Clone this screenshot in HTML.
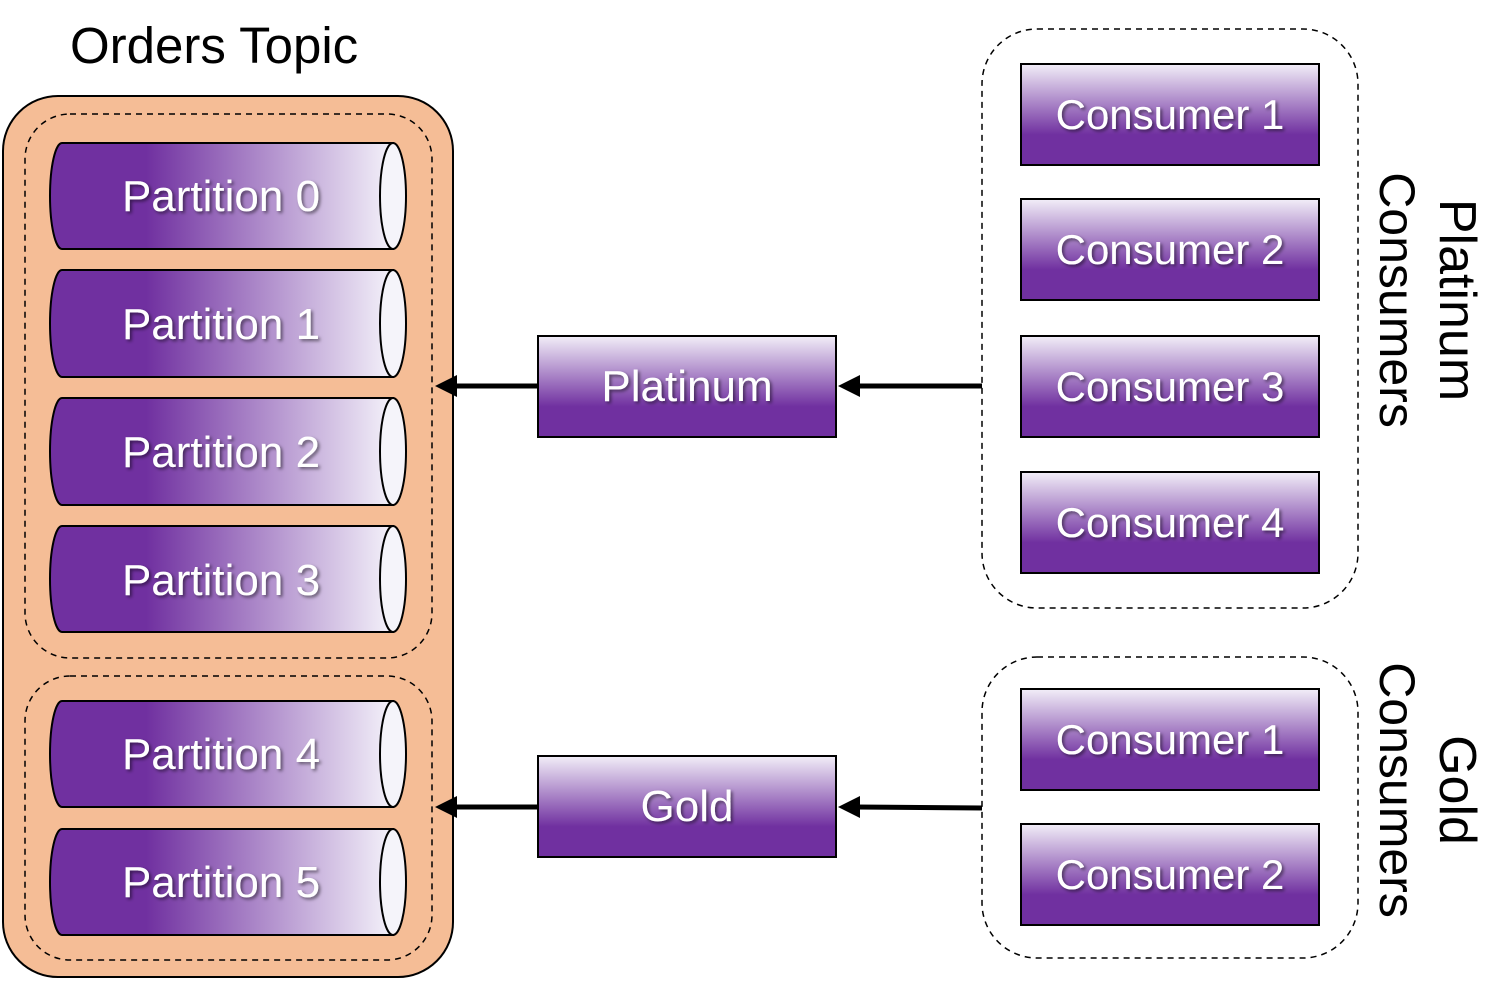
<!DOCTYPE html>
<html><head><meta charset="utf-8"><style>html,body{margin:0;padding:0;background:#fff}</style></head>
<body>
<svg width="1502" height="981" viewBox="0 0 1502 981" xmlns="http://www.w3.org/2000/svg" font-family="Liberation Sans, DejaVu Sans, sans-serif">
<defs>
<linearGradient id="cyl" x1="0" y1="0" x2="1" y2="0">
<stop offset="0" stop-color="#7030A0"/><stop offset="0.28" stop-color="#7030A0"/><stop offset="1" stop-color="#F4F2FA"/>
</linearGradient>
<linearGradient id="box" x1="0" y1="0" x2="0" y2="1">
<stop offset="0" stop-color="#F2EEF8"/><stop offset="0.7" stop-color="#7030A0"/><stop offset="1" stop-color="#7030A0"/>
</linearGradient>
<filter id="sh" x="-10%" y="-20%" width="120%" height="140%"><feDropShadow dx="2" dy="2" stdDeviation="1.5" flood-color="#000" flood-opacity="0.5"/></filter>
</defs>
<text x="70" y="63" font-size="51" fill="#000">Orders Topic</text>
<rect x="3" y="96" width="450" height="881" rx="55" fill="#F5BD96" stroke="#000" stroke-width="2"/>
<rect x="25" y="114" width="407" height="544" rx="45" fill="none" stroke="#000" stroke-width="1.5" stroke-dasharray="6,5"/>
<rect x="25" y="676" width="407" height="284" rx="45" fill="none" stroke="#000" stroke-width="1.5" stroke-dasharray="6,5"/>
<g stroke="#000" stroke-width="2">
<path d="M62 143 H393 V249 H62 A12 53 0 0 1 62 143 Z" fill="url(#cyl)"/><ellipse cx="393" cy="196" rx="13" ry="53" fill="#F5F4FA"/>
<path d="M62 270 H393 V377 H62 A12 53.5 0 0 1 62 270 Z" fill="url(#cyl)"/><ellipse cx="393" cy="323.5" rx="13" ry="53.5" fill="#F5F4FA"/>
<path d="M62 398 H393 V505 H62 A12 53.5 0 0 1 62 398 Z" fill="url(#cyl)"/><ellipse cx="393" cy="451.5" rx="13" ry="53.5" fill="#F5F4FA"/>
<path d="M62 526 H393 V632 H62 A12 53 0 0 1 62 526 Z" fill="url(#cyl)"/><ellipse cx="393" cy="579" rx="13" ry="53" fill="#F5F4FA"/>
<path d="M62 701 H393 V807 H62 A12 53 0 0 1 62 701 Z" fill="url(#cyl)"/><ellipse cx="393" cy="754" rx="13" ry="53" fill="#F5F4FA"/>
<path d="M62 829 H393 V935 H62 A12 53 0 0 1 62 829 Z" fill="url(#cyl)"/><ellipse cx="393" cy="882" rx="13" ry="53" fill="#F5F4FA"/>
</g>
<g font-size="44" fill="#fff" text-anchor="middle" filter="url(#sh)">
<text x="221" y="211">Partition 0</text>
<text x="221" y="339">Partition 1</text>
<text x="221" y="467">Partition 2</text>
<text x="221" y="595">Partition 3</text>
<text x="221" y="769">Partition 4</text>
<text x="221" y="897">Partition 5</text>
</g>
<rect x="982" y="29" width="376" height="579" rx="55" fill="none" stroke="#000" stroke-width="1.5" stroke-dasharray="6,5"/>
<rect x="982" y="657" width="376" height="301" rx="55" fill="none" stroke="#000" stroke-width="1.5" stroke-dasharray="6,5"/>
<g stroke="#000" stroke-width="2" fill="url(#box)">
<rect x="538" y="336" width="298" height="101"/>
<rect x="538" y="756" width="298" height="101"/>
<rect x="1021" y="64" width="298" height="101"/>
<rect x="1021" y="199" width="298" height="101"/>
<rect x="1021" y="336" width="298" height="101"/>
<rect x="1021" y="472" width="298" height="101"/>
<rect x="1021" y="689" width="298" height="101"/>
<rect x="1021" y="824" width="298" height="101"/>
</g>
<g font-size="44" fill="#fff" text-anchor="middle" filter="url(#sh)">
<text x="687" y="401">Platinum</text>
<text x="687" y="821">Gold</text>
</g>
<g font-size="42" fill="#fff" text-anchor="middle" filter="url(#sh)">
<text x="1170" y="129">Consumer 1</text>
<text x="1170" y="264">Consumer 2</text>
<text x="1170" y="401">Consumer 3</text>
<text x="1170" y="537">Consumer 4</text>
<text x="1170" y="754">Consumer 1</text>
<text x="1170" y="889">Consumer 2</text>
</g>
<g stroke="#000" stroke-width="5">
<line x1="982" y1="386" x2="855" y2="386"/>
<line x1="538" y1="386" x2="452" y2="386"/>
<line x1="982" y1="808" x2="855" y2="807"/>
<line x1="538" y1="807" x2="452" y2="807"/>
</g>
<g fill="#000">
<polygon points="838,386 860,375 860,397"/>
<polygon points="435,386 457,375 457,397"/>
<polygon points="838,807 860,796 860,818"/>
<polygon points="435,807 457,796 457,818"/>
</g>
<g font-size="50" fill="#000" text-anchor="middle">
<text transform="translate(1440,300) rotate(90)" font-size="52">Platinum</text>
<text transform="translate(1380,300) rotate(90)">Consumers</text>
<text transform="translate(1440,790) rotate(90)" font-size="52">Gold</text>
<text transform="translate(1380,790) rotate(90)">Consumers</text>
</g>
</svg>
</body></html>
